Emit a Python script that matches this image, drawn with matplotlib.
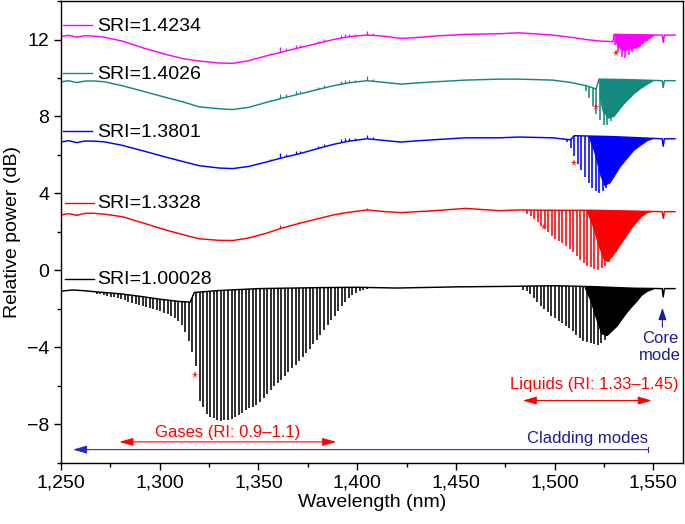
import numpy as np
import matplotlib
matplotlib.use("Agg")
import matplotlib.pyplot as plt
from matplotlib.patches import Polygon
from matplotlib.ticker import MultipleLocator, FuncFormatter

plt.rcParams['font.family'] = ['Liberation Sans', 'DejaVu Sans']

# ---- baselines ----
mag_nm = [1250, 1254, 1258, 1262, 1266, 1272, 1281, 1292, 1303, 1312, 1320, 1330, 1337, 1345, 1354,
          1362, 1371, 1380, 1388, 1396, 1405, 1413, 1422, 1430, 1439, 1455, 1472, 1482, 1499, 1508,
          1516, 1523, 1529.5, 1530.2, 1540, 1554.5, 1555, 1555.6, 1561]
mag_db = [12.15, 12.22, 12.12, 12.2, 12.18, 12.12, 11.92, 11.55, 11.23, 11.0, 10.88, 10.78, 10.76, 10.9,
          11.15, 11.35, 11.58, 11.8, 12.0, 12.15, 12.23, 12.18, 12.06, 12.1, 12.18, 12.27, 12.3, 12.35,
          12.23, 12.12, 12.0, 11.92, 11.89, 12.27, 12.25, 12.23, 11.85, 12.23, 12.23]

teal_nm = [1250, 1254, 1258, 1262, 1266, 1272, 1281, 1292, 1303, 1312, 1320, 1330, 1337, 1345, 1354,
           1362, 1371, 1380, 1388, 1396, 1405, 1413, 1422, 1430, 1439, 1455, 1472, 1482, 1499, 1508,
           1516, 1521, 1522.5, 1535, 1554.5, 1555, 1555.6, 1561]
teal_db = [9.80, 9.86, 9.76, 9.84, 9.85, 9.8, 9.6, 9.3, 8.99, 8.75, 8.5, 8.4, 8.36, 8.47, 8.73, 8.95,
           9.17, 9.4, 9.6, 9.75, 9.86, 9.78, 9.68, 9.74, 9.8, 9.89, 9.94, 9.94, 9.89, 9.77, 9.6, 9.43,
           9.94, 9.92, 9.86, 9.5, 9.86, 9.86]

blue_nm = [1250, 1254, 1258, 1262, 1266, 1272, 1281, 1292, 1303, 1312, 1320, 1330, 1337, 1345, 1354,
           1362, 1371, 1380, 1388, 1396, 1405, 1413, 1422, 1430, 1439, 1455, 1472, 1482, 1499, 1505,
           1508, 1510, 1530, 1554.5, 1555, 1555.6, 1561]
blue_db = [6.67, 6.74, 6.64, 6.72, 6.72, 6.68, 6.5, 6.2, 5.89, 5.65, 5.44, 5.32, 5.29, 5.4, 5.63, 5.85,
           6.07, 6.33, 6.55, 6.72, 6.84, 6.76, 6.67, 6.73, 6.79, 6.89, 6.89, 6.93, 6.89, 6.82, 6.79, 7.0,
           6.95, 6.84, 6.45, 6.84, 6.84]

red_nm = [1250, 1254, 1258, 1262, 1266, 1272, 1281, 1292, 1303, 1312, 1320, 1330, 1337, 1345, 1354,
          1362, 1371, 1380, 1388, 1396, 1405, 1413, 1422, 1430, 1439, 1455, 1472, 1482, 1500, 1520,
          1540, 1554.5, 1555, 1555.6, 1561]
red_db = [2.88, 2.95, 2.86, 2.96, 2.97, 2.92, 2.79, 2.45, 2.1, 1.85, 1.64, 1.56, 1.55, 1.68, 1.93, 2.2,
          2.45, 2.68, 2.88, 3.02, 3.14, 3.06, 3.0, 3.05, 3.1, 3.22, 3.1, 3.14, 3.12, 3.12, 3.08, 3.05,
          2.7, 3.05, 3.05]

blk_nm = [1250, 1256, 1262, 1268, 1274, 1280, 1290, 1300, 1310, 1315.5, 1317.5, 1330, 1350, 1380, 1400,
          1420, 1450, 1480, 1500, 1520, 1540, 1554.5, 1555, 1555.6, 1561]
blk_db = [-1.08, -1.02, -1.06, -1.12, -1.17, -1.22, -1.35, -1.5, -1.62, -1.65, -1.15, -1.05, -0.95,
          -0.9, -0.88, -0.92, -0.86, -0.83, -0.8, -0.85, -0.93, -0.95, -1.38, -0.95, -0.95]

# ---- resonance dips: wavelength and minimum ----
gas_nm = [1268.0, 1269.8, 1271.6, 1273.4, 1275.2, 1277.0, 1278.8, 1280.6, 1282.4, 1284.2, 1286.0,
          1287.8, 1289.6, 1291.4, 1293.2, 1295.0, 1296.8, 1298.6, 1300.4, 1302.2, 1304.0, 1305.8,
          1307.6, 1309.4, 1311.2, 1313.0, 1314.8, 1316.6, 1318.4, 1320.2, 1322.0, 1323.8, 1325.6,
          1327.4, 1329.2, 1331.0, 1332.8, 1334.6, 1336.4, 1338.2, 1340.0, 1341.8, 1343.6, 1345.4,
          1347.2, 1349.0, 1350.8, 1352.6, 1354.4, 1356.2, 1358.0, 1359.8, 1361.6, 1363.4, 1365.2,
          1367.0, 1368.8, 1370.6, 1372.4, 1374.2, 1376.0, 1377.8, 1379.6, 1381.4, 1383.2, 1385.0,
          1386.8, 1388.6, 1390.4, 1392.2, 1394.0, 1395.8, 1397.6, 1399.4, 1401.2, 1403.0, 1404.8]
gas_db = [-1.22, -1.25, -1.28, -1.32, -1.36, -1.40, -1.45, -1.50, -1.56, -1.62, -1.68, -1.74, -1.80,
          -1.85, -1.90, -1.95, -2.00, -2.05, -2.12, -2.20, -2.28, -2.38, -2.50, -2.65, -2.85, -3.20,
          -3.67, -4.25, -4.96, -6.77, -7.10, -7.45, -7.60, -7.70, -7.78, -7.82, -7.80, -7.76, -7.72,
          -7.62, -7.50, -7.40, -7.28, -7.18, -7.08, -7.00, -6.85, -6.65, -6.45, -6.22, -6.02, -5.85,
          -5.68, -5.48, -5.28, -5.10, -4.92, -4.72, -4.50, -4.30, -4.10, -3.85, -3.60, -3.35, -3.10,
          -2.85, -2.60, -2.35, -2.10, -1.85, -1.65, -1.45, -1.30, -1.18, -1.08, -1.02, -0.98]

blk_liq_nm = [1484.0, 1485.8, 1487.6, 1489.4, 1491.2, 1493.0, 1494.8, 1496.6, 1498.4, 1500.2, 1502.0,
              1503.8, 1505.6, 1507.4, 1509.2, 1511.0, 1512.8, 1514.6, 1516.4, 1518.2, 1520.0, 1521.8,
              1523.6, 1525.4, 1527.2, 1529.0]
blk_liq_db = [-1.00, -1.08, -1.25, -1.45, -1.67, -1.85, -2.00, -2.18, -2.35, -2.50, -2.62, -2.75,
              -2.88, -3.00, -3.15, -3.35, -3.52, -3.67, -3.75, -3.80, -3.85, -3.88, -3.78, -3.60,
              -3.38, -3.15]
blk_fill_nm = [1515, 1518, 1521, 1523.5, 1526.5, 1529, 1531.6, 1534, 1536.6, 1539, 1541.7, 1544, 1546.8, 1550]
blk_fill_db = [-0.9, -1.6, -2.6, -3.3, -3.4, -3.15, -2.9, -2.55, -2.19, -1.9, -1.6, -1.3, -1.1, -0.97]

red_liq_nm = [1486.0, 1487.8, 1489.6, 1491.4, 1493.2, 1495.0, 1496.8, 1498.6, 1500.4, 1502.2, 1504.0,
              1505.8, 1507.6, 1509.4, 1511.2, 1513.0, 1514.8, 1516.6, 1518.4, 1520.2, 1522.0, 1523.8,
              1525.6, 1527.4, 1529.2, 1531.0]
red_liq_db = [2.95, 2.85, 2.68, 2.50, 2.32, 2.15, 1.98, 1.80, 1.65, 1.52, 1.40, 1.25, 1.10, 0.95, 0.75,
              0.55, 0.40, 0.25, 0.15, 0.08, 0.04, 0.10, 0.22, 0.45, 0.68, 0.95]
red_fill_nm = [1516, 1519, 1522, 1524.5, 1526.5, 1529, 1531.6, 1534, 1536.6, 1539, 1541.7, 1544, 1547, 1550]
red_fill_db = [3.1, 2.3, 1.3, 0.6, 0.45, 0.7, 1.07, 1.45, 1.84, 2.2, 2.53, 2.8, 3.0, 3.08]

blue_liq_nm = [1504.6, 1506.4, 1508.2, 1510.0, 1511.8, 1513.6, 1515.4, 1517.2, 1519.0, 1520.8, 1522.6,
               1524.4, 1526.2, 1528.0, 1529.8, 1531.6]
blue_liq_db = [6.80, 6.65, 6.35, 5.95, 5.55, 5.20, 4.85, 4.55, 4.30, 4.10, 4.00, 4.12, 4.30, 4.53,
               4.80, 5.10]
blue_fill_nm = [1517, 1520, 1523, 1525, 1528, 1530.5, 1533, 1536.5, 1540, 1543.5, 1547, 1550]
blue_fill_db = [6.95, 6.1, 4.9, 4.4, 4.55, 4.95, 5.37, 5.8, 6.24, 6.5, 6.75, 6.85]

teal_liq_nm = [1515.8, 1517.6, 1519.4, 1521.2, 1523.0, 1524.8, 1526.6, 1528.4, 1530.2, 1532.0, 1533.8]
teal_liq_db = [9.30, 8.95, 8.55, 8.15, 7.80, 7.58, 7.55, 7.75, 7.98, 8.25, 8.50]
teal_fill_nm = [1522.5, 1524, 1527, 1530, 1535, 1540, 1543.5, 1547, 1550]
teal_fill_db = [9.0, 8.3, 7.9, 8.0, 8.65, 9.17, 9.45, 9.68, 9.86]

mag_liq_nm = [1530.4, 1532.2, 1534.0, 1535.8, 1537.6, 1539.4, 1541.2, 1543.0, 1544.8, 1546.6]
mag_liq_db = [11.70, 11.35, 11.08, 11.05, 11.20, 11.35, 11.50, 11.62, 11.75, 11.92]
mag_fill_nm = [1530.5, 1532, 1535, 1538, 1541.7, 1545, 1548, 1550]
mag_fill_db = [11.9, 11.6, 11.4, 11.5, 11.6, 11.85, 12.05, 12.2]

# ---- small upward spikes (tops) ----
spike_nm = [1356, 1361, 1364, 1369, 1371, 1380, 1383, 1392, 1394, 1396, 1399, 1405, 1408]
mag_spike_db = [11.3, 11.6, 11.55, 11.73, 11.74, 11.92, 12.03, 12.25, 12.3, 12.3, 12.29, 12.45, 12.32]
teal_spike_db = [8.88, 9.19, 9.15, 9.32, 9.33, 9.52, 9.62, 9.85, 9.9, 9.9, 9.9, 10.08, 9.94]
blue_spike_db = [5.78, 6.09, 6.05, 6.22, 6.23, 6.45, 6.56, 6.81, 6.87, 6.87, 6.87, 7.06, 6.92]
red_spike_nm = [1361, 1370, 1392, 1405]
red_spike_db = [2.35, 2.52, 3.05, 3.24]

# ---- markers and labels ----
star_nm = [1318, 1494.7, 1510, 1521, 1531]
star_db = [-5.44, 2.26, 5.56, 8.5, 11.29]
sri_labels = ['SRI=1.4234', 'SRI=1.4026', 'SRI=1.3801', 'SRI=1.3328', 'SRI=1.00028']
sri_colors = ['#ff00ff', '#128a80', '#0000ff', '#ff0000', '#000000']
sri_label_db = [12.75, 10.25, 7.22, 3.51, -0.44]

fig = plt.figure(figsize=(6.85, 5.24), dpi=100)
ax = fig.add_axes([0.089, 0.117, 0.908, 0.881])


def draw_trace(nm, db, color, dip_nm, dip_db, fill_nm, fill_db, sp_nm=(), sp_db=()):
    pts = list(zip(nm, db))
    below = Polygon(pts + [(nm[-1], -50), (nm[0], -50)], closed=True, transform=ax.transData)
    above = Polygon(pts + [(nm[-1], 50), (nm[0], 50)], closed=True, transform=ax.transData)
    lc = ax.vlines(dip_nm, dip_db, 20, colors=color, lw=1.15)
    lc.set_clip_path(below)
    pc = ax.fill_between(fill_nm, fill_db, 20, color=color, lw=0)
    pc.set_clip_path(below)
    if len(sp_nm):
        sc = ax.vlines(sp_nm, -20, sp_db, colors=color, lw=0.9)
        sc.set_clip_path(above)
    ax.plot(nm, db, color=color, lw=1.05)


draw_trace(mag_nm, mag_db, sri_colors[0], mag_liq_nm, mag_liq_db, mag_fill_nm, mag_fill_db,
           spike_nm, mag_spike_db)
draw_trace(teal_nm, teal_db, sri_colors[1], teal_liq_nm, teal_liq_db, teal_fill_nm, teal_fill_db,
           spike_nm, teal_spike_db)
draw_trace(blue_nm, blue_db, sri_colors[2], blue_liq_nm, blue_liq_db, blue_fill_nm, blue_fill_db,
           spike_nm, blue_spike_db)
draw_trace(red_nm, red_db, sri_colors[3], red_liq_nm, red_liq_db, red_fill_nm, red_fill_db,
           red_spike_nm, red_spike_db)
draw_trace(blk_nm, blk_db, sri_colors[4], gas_nm + blk_liq_nm, gas_db + blk_liq_db,
           blk_fill_nm, blk_fill_db)

ax.plot(star_nm, star_db, ls='none', marker='*', color='#ff2020', ms=5.5, mew=0)

# curve labels
for lab, col, y in zip(sri_labels, sri_colors, sri_label_db):
    x0 = 1252 if lab.endswith('28') else 1251
    ax.plot([x0, x0 + 14.5], [y, y], color=col, lw=1.0)
    ax.text(1268.5, y - 0.05, lab, fontsize=14, va='center', ha='left')

# annotations
navy = '#1c1c96'
ax.annotate('', xy=(1279.5, -8.92), xytext=(1389.5, -8.92),
            arrowprops=dict(arrowstyle='<|-|>,head_length=0.7,head_width=0.2', color='#ff0000',
                            lw=0.8, shrinkA=0, shrinkB=0, mutation_scale=12))
ax.text(1334.5, -8.42, 'Gases (RI: 0.9\u20131.1)', color='#ff0000', fontsize=12, ha='center', va='center')

ax.annotate('', xy=(1256, -9.32), xytext=(1547.5, -9.32),
            arrowprops=dict(arrowstyle='-|>,head_length=0.7,head_width=0.2', color='#2b2bc4',
                            lw=0.8, shrinkA=0, shrinkB=0, mutation_scale=12))
ax.plot([1547.5, 1547.5], [-9.17, -9.47], color='#2b2bc4', lw=0.8)
ax.text(1547.5, -8.75, 'Cladding modes', color=navy, fontsize=12, ha='right', va='center')

ax.annotate('', xy=(1483.8, -6.77), xytext=(1549.3, -6.77),
            arrowprops=dict(arrowstyle='<|-|>,head_length=0.7,head_width=0.2', color='#ff0000',
                            lw=0.8, shrinkA=0, shrinkB=0, mutation_scale=12))
ax.text(1563, -5.92, 'Liquids (RI: 1.33\u20131.45)', color='#ff0000', fontsize=12, ha='right', va='center')

ax.annotate('', xy=(1554.6, -1.95), xytext=(1554.6, -2.95),
            arrowprops=dict(arrowstyle='-|>,head_length=0.6,head_width=0.2', color=navy,
                            lw=0.8, shrinkA=0, shrinkB=0, mutation_scale=12))
ax.text(1553.5, -4.0, 'Core\nmode', color=navy, fontsize=12, ha='center', va='center', linespacing=1.15)

ax.set_xlim(1250, 1565)
ax.set_ylim(-10, 14)
ax.xaxis.set_major_locator(MultipleLocator(50))
ax.xaxis.set_minor_locator(MultipleLocator(25))
ax.yaxis.set_major_locator(MultipleLocator(4))
ax.yaxis.set_minor_locator(MultipleLocator(2))
ax.xaxis.set_major_formatter(FuncFormatter(lambda v, p: f'{v:,.0f}'))
ax.tick_params(which='major', length=5, width=1, labelsize=14)
ax.tick_params(which='minor', length=3, width=1)
for s in ax.spines.values():
    s.set_linewidth(1.0)
ax.set_xlabel('Wavelength (nm)', fontsize=14, labelpad=2)
ax.set_ylabel('Relative power (dB)', fontsize=14, labelpad=4)

fig.savefig('out.png', dpi=100)
